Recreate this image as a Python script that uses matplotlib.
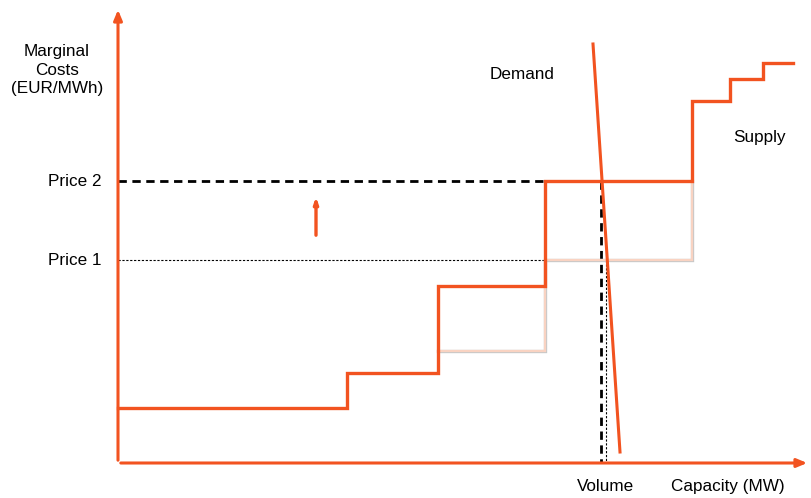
import matplotlib
matplotlib.use('Agg')
from matplotlib import pyplot as plt

plt.rcParams['font.family'] = ['Liberation Sans', 'DejaVu Sans']

orange = '#f25320'
pale = '#f9d3c2'

# supply curve after the shift (capacity, marginal cost)
supply_x = [0, 229, 229, 320, 320, 427, 427, 574, 574, 612, 612, 645, 645, 675]
supply_y = [55, 55, 90, 90, 177, 177, 282, 282, 362, 362, 384, 384, 400, 400]

# supply curve before the shift (only the part that differs)
old_x = [320, 427, 427, 574, 574]
old_y = [112, 112, 203, 203, 282]

# demand line
demand_x = [475, 502]
demand_y = [419, 11]

price_labels = ['Price 1', 'Price 2']
price_values = [203, 282]
volume_values = [488, 483]


def main():
    fig = plt.figure(figsize=(8.11, 4.98), dpi=100)
    ax = fig.add_axes([0, 0, 1, 1])
    ax.set_xlim(-118, 693)
    ax.set_ylim(-35, 463)
    ax.axis('off')

    # axes with arrows
    ax.annotate('', xy=(0, 456), xytext=(0, 0),
                arrowprops=dict(arrowstyle='-|>,head_width=0.25,head_length=0.6', color=orange, lw=2.2))
    ax.annotate('', xy=(692, 0), xytext=(0, 0),
                arrowprops=dict(arrowstyle='-|>,head_width=0.25,head_length=0.6', color=orange, lw=2.2))

    # price guides
    ax.plot([0, volume_values[0]], [price_values[0], price_values[0]], color='black', lw=0.8, ls=(0, (2, 1.5)))
    ax.plot([volume_values[0], volume_values[0]], [price_values[0], 0], color='black', lw=0.8, ls=(0, (2, 1.5)))
    ax.plot([0, volume_values[1]], [price_values[1], price_values[1]], color='black', lw=2, ls=(0, (3, 2)))
    ax.plot([volume_values[1], volume_values[1]], [price_values[1], 0], color='black', lw=2, ls=(0, (3, 2)))

    ax.plot(old_x, old_y, color='#c8c8c8', lw=2.4, solid_joinstyle='miter')
    ax.plot(old_x, old_y, color=pale, lw=1.6, solid_joinstyle='miter')
    ax.plot(supply_x, supply_y, color=orange, lw=2.4, solid_joinstyle='miter')
    ax.plot(demand_x, demand_y, color=orange, lw=2.2)

    # small arrow showing the price increase
    ax.annotate('', xy=(198, 269), xytext=(198, 225),
                arrowprops=dict(arrowstyle='-|>,head_width=0.12,head_length=0.35', color=orange, lw=2.4))

    fs = 12.3
    ax.text(-61, 393, 'Marginal\nCosts\n(EUR/MWh)', ha='center', va='center', fontsize=fs, linespacing=1.3)
    for lab, val in zip(price_labels, price_values):
        ax.text(-16, val, lab, ha='right', va='center', fontsize=fs)
    ax.text(404, 389, 'Demand', ha='center', va='center', fontsize=fs)
    ax.text(641, 326, 'Supply', ha='center', va='center', fontsize=fs)
    ax.text(488, -23, 'Volume', ha='center', va='center', fontsize=fs)
    ax.text(610, -23, 'Capacity (MW)', ha='center', va='center', fontsize=fs)

    plt.savefig('out.png', dpi=100)
    plt.close()


if __name__ == '__main__':
    main()
